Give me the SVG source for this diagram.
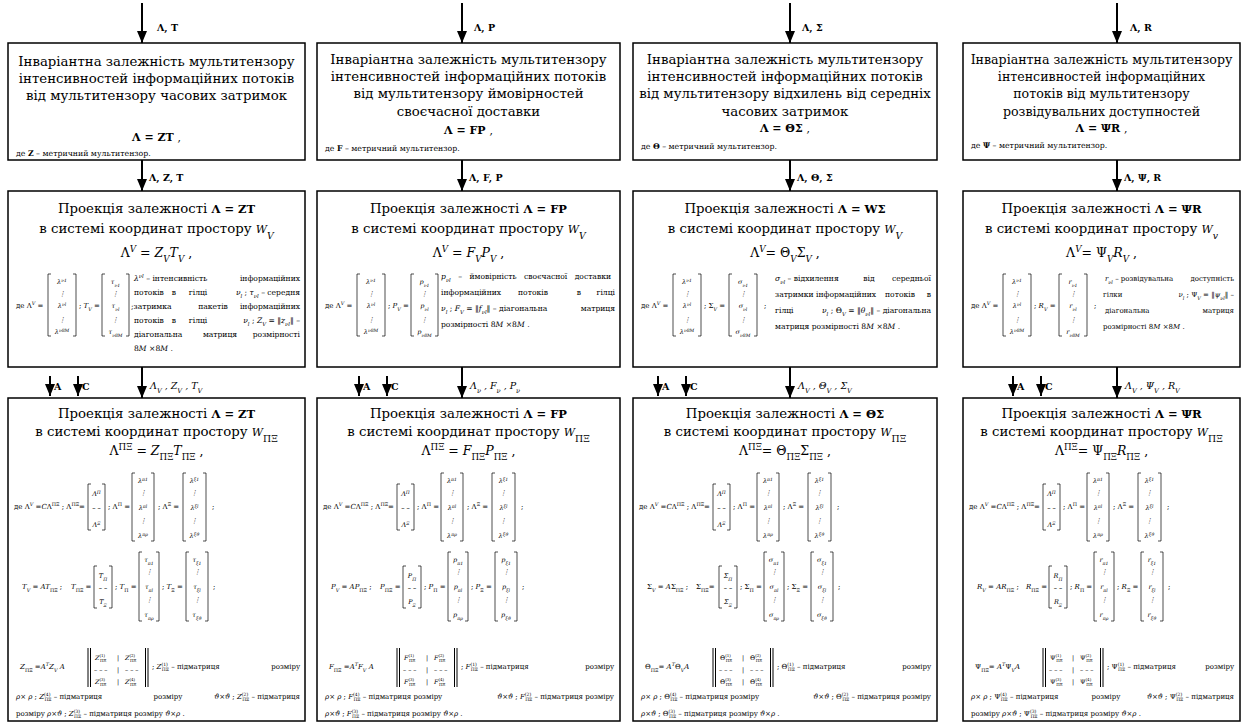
<svg xmlns="http://www.w3.org/2000/svg" width="1245" height="725" viewBox="0 0 1245 725" font-family="DejaVu Serif, serif">
<style>
text{font-family:'DejaVu Serif',serif;fill:#000}
.box{fill:#fff;stroke:#000;stroke-width:1.5}
.h{font-size:13.3px;text-anchor:middle}
.h4{font-size:12.6px}
.e{font-size:12.5px;text-anchor:middle}
.eb{font-size:11px;font-weight:bold;text-anchor:middle}
.n{font-size:7.8px}
.q{font-size:6.3px}
.s{font-size:7px}
.p{font-size:7.6px}
.p4{font-size:7px}
.v{font-size:6.5px;text-anchor:middle;font-style:italic}
.m{text-anchor:middle}
.r{text-anchor:end}
.i{font-style:italic}
.b{font-weight:bold}
.hb{font-weight:bold;font-size:11.5px}
.w{font-style:italic;font-size:11px}
.sp{baseline-shift:super;font-size:70%}
.sb{baseline-shift:sub;font-size:70%}
.br{fill:none;stroke:#000;stroke-width:0.7}
.db{fill:none;stroke:#000;stroke-width:1}
.ar{fill:none;stroke:#000;stroke-width:2;marker-end:url(#ah)}
.lb{font-size:9.5px;font-weight:bold}
.li{font-size:9.5px;font-style:italic}
</style>
<defs>
<marker id="ah" markerUnits="userSpaceOnUse" markerWidth="12" markerHeight="10" refX="12" refY="5" orient="auto"><path d="M0,0L12,5L0,10z" fill="#000"/></marker>
</defs>

<g id="connectors">
<line class="ar" x1="142" y1="3" x2="142" y2="43"/>
<line class="ar" x1="462" y1="3" x2="462" y2="43"/>
<line class="ar" x1="790" y1="3" x2="790" y2="43"/>
<line class="ar" x1="1117" y1="3" x2="1117" y2="43"/>
<text class="lb" x="157" y="31">Λ, T</text>
<text class="lb" x="474" y="31">Λ, P</text>
<text class="lb" x="802" y="31">Λ, Σ</text>
<text class="lb" x="1130" y="31">Λ, R</text>
<line class="ar" x1="142" y1="160" x2="142" y2="191"/>
<line class="ar" x1="462" y1="160" x2="462" y2="191"/>
<line class="ar" x1="790" y1="160" x2="790" y2="191"/>
<line class="ar" x1="1117" y1="160" x2="1117" y2="191"/>
<text class="lb" x="149" y="181">Λ, Z, T</text>
<text class="lb" x="469" y="181">Λ, F, P</text>
<text class="lb" x="797" y="181">Λ, Θ, Σ</text>
<text class="lb" x="1124" y="181">Λ, Ψ, R</text>
<line class="ar" x1="142" y1="367" x2="142" y2="398"/>
<line class="ar" x1="462" y1="367" x2="462" y2="398"/>
<line class="ar" x1="790" y1="367" x2="790" y2="398"/>
<line class="ar" x1="1117" y1="367" x2="1117" y2="398"/>
<text class="li" x="150" y="389">Λ<tspan class="sb">V</tspan> , <tspan>Z</tspan><tspan class="sb">V</tspan> , <tspan>T</tspan><tspan class="sb">V</tspan></text>
<text class="li" x="470" y="389">Λ<tspan class="sb">ν</tspan> , <tspan>F</tspan><tspan class="sb">ν</tspan> , <tspan>P</tspan><tspan class="sb">ν</tspan></text>
<text class="li" x="798" y="389">Λ<tspan class="sb">V</tspan> , Θ<tspan class="sb">V</tspan> , Σ<tspan class="sb">V</tspan></text>
<text class="li" x="1125" y="389">Λ<tspan class="sb">V</tspan> , Ψ<tspan class="sb">V</tspan> , <tspan>R</tspan><tspan class="sb">V</tspan></text>
<line class="ar" x1="50" y1="376" x2="50" y2="396"/>
<line class="ar" x1="78" y1="376" x2="78" y2="396"/>
<line class="ar" x1="359" y1="376" x2="359" y2="396"/>
<line class="ar" x1="387" y1="376" x2="387" y2="396"/>
<line class="ar" x1="658" y1="376" x2="658" y2="396"/>
<line class="ar" x1="686" y1="376" x2="686" y2="396"/>
<line class="ar" x1="1013" y1="376" x2="1013" y2="396"/>
<line class="ar" x1="1041" y1="376" x2="1041" y2="396"/>
<text class="lb" x="54" y="390">A</text><text class="lb" x="82" y="390">C</text>
<text class="lb" x="363" y="390">A</text><text class="lb" x="391" y="390">C</text>
<text class="lb" x="662" y="390">A</text><text class="lb" x="690" y="390">C</text>
<text class="lb" x="1017" y="390">A</text><text class="lb" x="1045" y="390">C</text>
</g>

<!-- ================= COLUMN 1 ================= -->
<g id="n1-top" transform="translate(8,0)">
<rect class="box" x="0" y="43" width="297" height="117"/>
<text class="h" x="148.5" y="66">Інваріантна залежність мультитензору</text>
<text class="h" x="148.5" y="83">інтенсивностей інформаційних потоків</text>
<text class="h" x="148.5" y="100">від мультитензору часових затримок</text>
<text class="eb" x="148.5" y="141">Λ = ZT <tspan font-weight="normal">,</tspan></text>
<text class="n" x="8" y="156">де <tspan class="b">Z</tspan> – метричний мультитензор.</text>
</g>

<g id="n1-mid" transform="translate(8,0)">
<rect class="box" x="0" y="191" width="297" height="176"/>
<text class="h" x="148.5" y="213">Проекція залежності <tspan class="hb">Λ = ZT</tspan></text>
<text class="h" x="148.5" y="233">в системі координат простору <tspan class="w">W</tspan><tspan class="sb i">V</tspan></text>
<text class="e" x="148.5" y="257">Λ<tspan class="sp i">V</tspan> = <tspan class="i">Z</tspan><tspan class="sb i">V</tspan><tspan class="i">T</tspan><tspan class="sb i">V</tspan> ,</text>
<text class="s" x="8" y="308">де Λ<tspan class="sp i">V</tspan> =</text>
<path class="br" d="M43,274H40V336H43M65,274H68V336H65"/>
<text class="v" x="54" y="284">λ<tspan class="sp">ν1</tspan></text>
<text class="v" x="54" y="296">⋮</text>
<text class="v" x="54" y="308">λ<tspan class="sp">νl</tspan></text>
<text class="v" x="54" y="322">⋮</text>
<text class="v" x="54" y="334">λ<tspan class="sp">ν8M</tspan></text>
<text class="s" x="71" y="308">; <tspan class="i">T</tspan><tspan class="sb i">V</tspan> =</text>
<path class="br" d="M97,274H94V336H97M118,274H121V336H118"/>
<text class="v" x="107.5" y="284">τ<tspan class="sb">ν1</tspan></text>
<text class="v" x="107.5" y="296">⋮</text>
<text class="v" x="107.5" y="308">τ<tspan class="sb">νl</tspan></text>
<text class="v" x="107.5" y="322">⋮</text>
<text class="v" x="107.5" y="334">τ<tspan class="sb">ν8M</tspan></text>
<text class="p" x="126" y="281"><tspan class="i">λ</tspan><tspan class="sp i">νl</tspan> – інтенсивність</text>
<text class="p r" x="292" y="281">інформаційних</text>
<text class="p" x="126" y="295">потоків</text><text class="p m" x="166" y="295">в</text><text class="p m" x="190" y="295">гілці</text>
<text class="p r" x="292" y="295"><tspan class="i">ν</tspan><tspan class="sb i">l</tspan> ; <tspan class="i">τ</tspan><tspan class="sb i">νl</tspan> – середня</text>
<text class="p" x="123" y="309">;затримка</text><text class="p m" x="205" y="309">пакетів</text><text class="p r" x="292" y="309">інформаційних</text>
<text class="p" x="126" y="323">потоків</text><text class="p m" x="166" y="323">в</text><text class="p m" x="190" y="323">гілці</text>
<text class="p r" x="292" y="323"><tspan class="i">ν</tspan><tspan class="sb i">l</tspan> ; <tspan class="i">Z</tspan><tspan class="sb i">V</tspan> = ‖<tspan class="i">z</tspan><tspan class="sb i">νl</tspan>‖ –</text>
<text class="p" x="126" y="337">діагональна</text><text class="p m" x="212" y="337">матриця</text><text class="p r" x="292" y="337">розмірності</text>
<text class="p" x="126" y="351">8<tspan class="i">M</tspan> ×8<tspan class="i">M</tspan>  .</text>
</g>

<g id="n1-bot" transform="translate(8,0)">
<rect class="box" x="0" y="398" width="297" height="323"/>
<text class="h" x="148.5" y="418">Проекція залежності <tspan class="hb">Λ = ZT</tspan></text>
<text class="h" x="148.5" y="436">в системі координат простору <tspan class="w">W</tspan><tspan class="sb">ΠΞ</tspan></text>
<text class="e" x="148.5" y="455">Λ<tspan class="sp">ΠΞ</tspan> = <tspan class="i">Z</tspan><tspan class="sb">ΠΞ</tspan><tspan class="i">T</tspan><tspan class="sb">ΠΞ</tspan> ,</text>
<text class="s" x="6" y="509">де Λ<tspan class="sp i">V</tspan> =<tspan class="i">C</tspan>Λ<tspan class="sp">ΠΞ</tspan> ; Λ<tspan class="sp">ΠΞ</tspan>=</text>
<path class="br" d="M83,484H80V530H83M94,484H97V530H94"/>
<text class="v" x="88.5" y="496" font-style="normal">Λ<tspan class="sp">Π</tspan></text>
<text class="v" x="88.5" y="510">– –</text>
<text class="v" x="88.5" y="527" font-style="normal">Λ<tspan class="sp">Ξ</tspan></text>
<text class="s" x="100" y="509">; Λ<tspan class="sp">Π</tspan> =</text>
<path class="br" d="M127,473H124V541H127M143,473H146V541H143"/>
<text class="v" x="135" y="483">λ<tspan class="sp">π1</tspan></text>
<text class="v" x="135" y="495">⋮</text>
<text class="v" x="135" y="510">λ<tspan class="sp">πl</tspan></text>
<text class="v" x="135" y="523">⋮</text>
<text class="v" x="135" y="538">λ<tspan class="sp">πρ</tspan></text>
<text class="s" x="150" y="509">; Λ<tspan class="sp">Ξ</tspan> =</text>
<path class="br" d="M178,473H175V541H178M195,473H198V541H195"/>
<text class="v" x="186.5" y="483">λ<tspan class="sp">ξ1</tspan></text>
<text class="v" x="186.5" y="495">⋮</text>
<text class="v" x="186.5" y="510">λ<tspan class="sp">ξl</tspan></text>
<text class="v" x="186.5" y="523">⋮</text>
<text class="v" x="186.5" y="538">λ<tspan class="sp">ξϑ</tspan></text>
<text class="s" x="204" y="509">;</text>
<text class="s" x="14" y="589"><tspan class="i">T</tspan><tspan class="sb i">V</tspan> = <tspan class="i">AT</tspan><tspan class="sb">ΠΞ</tspan> ;</text>
<text class="s" x="63" y="589"><tspan class="i">T</tspan><tspan class="sb">ΠΞ</tspan> =</text>
<path class="br" d="M89,566H86V608H89M101,566H104V608H101"/>
<text class="v" x="95" y="578">T<tspan class="sb">Π</tspan></text>
<text class="v" x="95" y="590">– –</text>
<text class="v" x="95" y="604">T<tspan class="sb">Ξ</tspan></text>
<text class="s" x="107" y="589">; <tspan class="i">T</tspan><tspan class="sb">Π</tspan> =</text>
<path class="br" d="M134,552H131V621H134M148,552H151V621H148"/>
<text class="v" x="141" y="562">τ<tspan class="sb">π1</tspan></text>
<text class="v" x="141" y="574">⋮</text>
<text class="v" x="141" y="589">τ<tspan class="sb">πl</tspan></text>
<text class="v" x="141" y="602">⋮</text>
<text class="v" x="141" y="617">τ<tspan class="sb">πρ</tspan></text>
<text class="s" x="154" y="589">; <tspan class="i">T</tspan><tspan class="sb">Ξ</tspan> =</text>
<path class="br" d="M181,552H178V621H181M197,552H200V621H197"/>
<text class="v" x="189" y="562">τ<tspan class="sb">ξ1</tspan></text>
<text class="v" x="189" y="574">⋮</text>
<text class="v" x="189" y="589">τ<tspan class="sb">ξl</tspan></text>
<text class="v" x="189" y="602">⋮</text>
<text class="v" x="189" y="617">τ<tspan class="sb">ξϑ</tspan></text>
<text class="s" x="205" y="589">;</text>
<text class="s" x="12" y="669"><tspan class="i">Z</tspan><tspan class="sb">ΠΞ</tspan> =<tspan class="i">A</tspan><tspan class="sp i">T</tspan><tspan class="i">Z</tspan><tspan class="sb i">V</tspan><tspan class="i"> A</tspan></text>
<path class="db" d="M80,648V687M82.5,648V687M137.5,648V687M140,648V687"/>
<text class="q" x="87" y="660"><tspan class="i">Z</tspan><tspan font-size="4" dy="-3">(1)</tspan><tspan font-size="4" dx="-5" dy="5">ΠΞ</tspan></text>
<text class="q m" x="110" y="660">|</text>
<text class="q" x="117" y="660"><tspan class="i">Z</tspan><tspan font-size="4" dy="-3">(2)</tspan><tspan font-size="4" dx="-5" dy="5">ΠΞ</tspan></text>
<text class="q" x="86" y="672">– – –</text><text class="q m" x="110" y="672">|</text><text class="q" x="117" y="672">– – –</text>
<text class="q" x="87" y="684"><tspan class="i">Z</tspan><tspan font-size="4" dy="-3">(3)</tspan><tspan font-size="4" dx="-5" dy="5">ΠΞ</tspan></text>
<text class="q m" x="110" y="684">|</text>
<text class="q" x="117" y="684"><tspan class="i">Z</tspan><tspan font-size="4" dy="-3">(4)</tspan><tspan font-size="4" dx="-5" dy="5">ΠΞ</tspan></text>
<text class="s" x="144" y="669">; <tspan class="i">Z</tspan><tspan font-size="4.5" dy="-3">(1)</tspan><tspan font-size="4.5" dx="-6" dy="5">ΠΞ</tspan><tspan dy="-2"> – підматриця</tspan></text>
<text class="s r" x="292" y="669">розміру</text>
<text class="s" x="8" y="699"><tspan class="i">ρ</tspan>× <tspan class="i">ρ</tspan> ; <tspan class="i">Z</tspan><tspan font-size="4.5" dy="-3">(4)</tspan><tspan font-size="4.5" dx="-6" dy="5">ΠΞ</tspan><tspan dy="-2"> – підматриця</tspan></text>
<text class="s m" x="160" y="699">розміру</text>
<text class="s r" x="292" y="699"><tspan class="i">ϑ</tspan>×<tspan class="i">ϑ</tspan> ; <tspan class="i">Z</tspan><tspan font-size="4.5" dy="-3">(2)</tspan><tspan font-size="4.5" dx="-6" dy="5">ΠΞ</tspan><tspan dy="-2"> – підматриця</tspan></text>
<text class="s" x="8" y="716">розміру  <tspan class="i">ρ</tspan>×<tspan class="i">ϑ</tspan> ; <tspan class="i">Z</tspan><tspan font-size="4.5" dy="-3">(3)</tspan><tspan font-size="4.5" dx="-6" dy="5">ΠΞ</tspan><tspan dy="-2"> – підматриця розміру  </tspan><tspan class="i">ϑ</tspan>×<tspan class="i">ρ</tspan> .</text>
</g>

<!-- ================= COLUMN 2 ================= -->
<g id="n2-top" transform="translate(317,0)">
<rect class="box" x="0" y="43" width="303" height="117"/>
<text class="h" x="151.5" y="64">Інваріантна залежність мультитензору</text>
<text class="h" x="151.5" y="81">інтенсивностей інформаційних потоків</text>
<text class="h" x="151.5" y="98">від мультитензору ймовірностей</text>
<text class="h" x="151.5" y="116">своєчасної доставки</text>
<text class="eb" x="151.5" y="134">Λ = FP <tspan font-weight="normal">,</tspan></text>
<text class="n" x="8" y="151">де <tspan class="b">F</tspan> – метричний мультитензор.</text>
</g>

<g id="n2-mid" transform="translate(317,0)">
<rect class="box" x="0" y="191" width="303" height="176"/>
<text class="h" x="151.5" y="213">Проекція залежності <tspan class="hb">Λ = FP</tspan></text>
<text class="h" x="151.5" y="233">в системі координат простору <tspan class="w">W</tspan><tspan class="sb i">V</tspan></text>
<text class="e" x="151.5" y="257">Λ<tspan class="sp i">V</tspan> = <tspan class="i">F</tspan><tspan class="sb i">V</tspan><tspan class="i">P</tspan><tspan class="sb i">V</tspan> ,</text>
<text class="s" x="8" y="308">де Λ<tspan class="sp i">V</tspan> =</text>
<path class="br" d="M43,274H40V336H43M65,274H68V336H65"/>
<text class="v" x="54" y="284">λ<tspan class="sp">ν1</tspan></text>
<text class="v" x="54" y="296">⋮</text>
<text class="v" x="54" y="308">λ<tspan class="sp">νl</tspan></text>
<text class="v" x="54" y="322">⋮</text>
<text class="v" x="54" y="334">λ<tspan class="sp">ν8M</tspan></text>
<text class="s" x="71" y="308">; <tspan class="i">P</tspan><tspan class="sb i">V</tspan> =</text>
<path class="br" d="M97,274H94V336H97M118,274H121V336H118"/>
<text class="v" x="107.5" y="284">p<tspan class="sb">ν1</tspan></text>
<text class="v" x="107.5" y="296">⋮</text>
<text class="v" x="107.5" y="308">p<tspan class="sb">νl</tspan></text>
<text class="v" x="107.5" y="322">⋮</text>
<text class="v" x="107.5" y="334">p<tspan class="sb">ν8M</tspan></text>
<text class="p" x="124" y="279" style="word-spacing:5px"><tspan class="i">p</tspan><tspan class="sb i">νl</tspan> – ймовірність своєчасної доставки</text>
<text class="p" x="124" y="295">інформаційних</text><text class="p m" x="216" y="295">потоків</text><text class="p m" x="262" y="295">в</text><text class="p r" x="298" y="295">гілці</text>
<text class="p" x="124" y="311"><tspan class="i">ν</tspan><tspan class="sb i">l</tspan> ; <tspan class="i">F</tspan><tspan class="sb i">V</tspan> = ‖<tspan class="i">f</tspan><tspan class="sb i">νl</tspan>‖ – діагональна</text><text class="p r" x="298" y="311">матриця</text>
<text class="p" x="124" y="327">розмірності  8<tspan class="i">M</tspan> ×8<tspan class="i">M</tspan>  .</text>
</g>

<g id="n2-bot" transform="translate(317,0)">
<rect class="box" x="0" y="398" width="303" height="323"/>
<text class="h" x="151.5" y="418">Проекція залежності <tspan class="hb">Λ = FP</tspan></text>
<text class="h" x="151.5" y="436">в системі координат простору <tspan class="w">W</tspan><tspan class="sb">ΠΞ</tspan></text>
<text class="e" x="151.5" y="455">Λ<tspan class="sp">ΠΞ</tspan> = <tspan class="i">F</tspan><tspan class="sb">ΠΞ</tspan><tspan class="i">P</tspan><tspan class="sb">ΠΞ</tspan> ,</text>
<text class="s" x="6" y="509">де Λ<tspan class="sp i">V</tspan> =<tspan class="i">C</tspan>Λ<tspan class="sp">ΠΞ</tspan> ; Λ<tspan class="sp">ΠΞ</tspan>=</text>
<path class="br" d="M83,484H80V530H83M94,484H97V530H94"/>
<text class="v" x="88.5" y="496" font-style="normal">Λ<tspan class="sp">Π</tspan></text>
<text class="v" x="88.5" y="510">– –</text>
<text class="v" x="88.5" y="527" font-style="normal">Λ<tspan class="sp">Ξ</tspan></text>
<text class="s" x="100" y="509">; Λ<tspan class="sp">Π</tspan> =</text>
<path class="br" d="M127,473H124V541H127M143,473H146V541H143"/>
<text class="v" x="135" y="483">λ<tspan class="sp">π1</tspan></text>
<text class="v" x="135" y="495">⋮</text>
<text class="v" x="135" y="510">λ<tspan class="sp">πl</tspan></text>
<text class="v" x="135" y="523">⋮</text>
<text class="v" x="135" y="538">λ<tspan class="sp">πρ</tspan></text>
<text class="s" x="150" y="509">; Λ<tspan class="sp">Ξ</tspan> =</text>
<path class="br" d="M178,473H175V541H178M195,473H198V541H195"/>
<text class="v" x="186.5" y="483">λ<tspan class="sp">ξ1</tspan></text>
<text class="v" x="186.5" y="495">⋮</text>
<text class="v" x="186.5" y="510">λ<tspan class="sp">ξl</tspan></text>
<text class="v" x="186.5" y="523">⋮</text>
<text class="v" x="186.5" y="538">λ<tspan class="sp">ξϑ</tspan></text>
<text class="s" x="204" y="509">;</text>
<text class="s" x="14" y="589"><tspan class="i">P</tspan><tspan class="sb i">V</tspan> = <tspan class="i">AP</tspan><tspan class="sb">ΠΞ</tspan> ;</text>
<text class="s" x="63" y="589"><tspan class="i">P</tspan><tspan class="sb">ΠΞ</tspan> =</text>
<path class="br" d="M89,566H86V608H89M101,566H104V608H101"/>
<text class="v" x="95" y="578">P<tspan class="sb">Π</tspan></text>
<text class="v" x="95" y="590">– –</text>
<text class="v" x="95" y="604">P<tspan class="sb">Ξ</tspan></text>
<text class="s" x="107" y="589">; <tspan class="i">P</tspan><tspan class="sb">Π</tspan> =</text>
<path class="br" d="M134,552H131V621H134M148,552H151V621H148"/>
<text class="v" x="141" y="562">p<tspan class="sb">π1</tspan></text>
<text class="v" x="141" y="574">⋮</text>
<text class="v" x="141" y="589">p<tspan class="sb">πl</tspan></text>
<text class="v" x="141" y="602">⋮</text>
<text class="v" x="141" y="617">p<tspan class="sb">πρ</tspan></text>
<text class="s" x="154" y="589">; <tspan class="i">P</tspan><tspan class="sb">Ξ</tspan> =</text>
<path class="br" d="M181,552H178V621H181M197,552H200V621H197"/>
<text class="v" x="189" y="562">p<tspan class="sb">ξ1</tspan></text>
<text class="v" x="189" y="574">⋮</text>
<text class="v" x="189" y="589">p<tspan class="sb">ξl</tspan></text>
<text class="v" x="189" y="602">⋮</text>
<text class="v" x="189" y="617">p<tspan class="sb">ξϑ</tspan></text>
<text class="s" x="205" y="589">;</text>
<text class="s" x="12" y="669"><tspan class="i">F</tspan><tspan class="sb">ΠΞ</tspan> =<tspan class="i">A</tspan><tspan class="sp i">T</tspan><tspan class="i">F</tspan><tspan class="sb i">V</tspan><tspan class="i"> A</tspan></text>
<path class="db" d="M80,648V687M82.5,648V687M137.5,648V687M140,648V687"/>
<text class="q" x="87" y="660"><tspan class="i">F</tspan><tspan font-size="4" dy="-3">(1)</tspan><tspan font-size="4" dx="-5" dy="5">ΠΞ</tspan></text>
<text class="q m" x="110" y="660">|</text>
<text class="q" x="117" y="660"><tspan class="i">F</tspan><tspan font-size="4" dy="-3">(2)</tspan><tspan font-size="4" dx="-5" dy="5">ΠΞ</tspan></text>
<text class="q" x="86" y="672">– – –</text><text class="q m" x="110" y="672">|</text><text class="q" x="117" y="672">– – –</text>
<text class="q" x="87" y="684"><tspan class="i">F</tspan><tspan font-size="4" dy="-3">(3)</tspan><tspan font-size="4" dx="-5" dy="5">ΠΞ</tspan></text>
<text class="q m" x="110" y="684">|</text>
<text class="q" x="117" y="684"><tspan class="i">F</tspan><tspan font-size="4" dy="-3">(4)</tspan><tspan font-size="4" dx="-5" dy="5">ΠΞ</tspan></text>
<text class="s" x="144" y="669">; <tspan class="i">F</tspan><tspan font-size="4.5" dy="-3">(1)</tspan><tspan font-size="4.5" dx="-6" dy="5">ΠΞ</tspan><tspan dy="-2"> – підматриця</tspan></text>
<text class="s r" x="297" y="669">розміру</text>
<text class="s" x="8" y="699"><tspan class="i">ρ</tspan>× <tspan class="i">ρ</tspan> ; <tspan class="i">F</tspan><tspan font-size="4.5" dy="-3">(4)</tspan><tspan font-size="4.5" dx="-6" dy="5">ΠΞ</tspan><tspan dy="-2"> – підматриця розміру</tspan></text>
<text class="s r" x="297" y="699"><tspan class="i">ϑ</tspan>×<tspan class="i">ϑ</tspan> ; <tspan class="i">F</tspan><tspan font-size="4.5" dy="-3">(2)</tspan><tspan font-size="4.5" dx="-6" dy="5">ΠΞ</tspan><tspan dy="-2"> – підматриця розміру</tspan></text>
<text class="s" x="8" y="716"><tspan class="i">ρ</tspan>×<tspan class="i">ϑ</tspan> ; <tspan class="i">F</tspan><tspan font-size="4.5" dy="-3">(3)</tspan><tspan font-size="4.5" dx="-6" dy="5">ΠΞ</tspan><tspan dy="-2"> – підматриця розміру  </tspan><tspan class="i">ϑ</tspan>×<tspan class="i">ρ</tspan> .</text>
</g>

<!-- ================= COLUMN 3 ================= -->
<g id="n3-top" transform="translate(633,0)">
<rect class="box" x="0" y="43" width="304" height="117"/>
<text class="h" x="152" y="64">Інваріантна залежність мультитензору</text>
<text class="h" x="152" y="81">інтенсивностей інформаційних потоків</text>
<text class="h" x="152" y="98">від мультитензору відхилень від середніх</text>
<text class="h" x="152" y="116">часових затримок</text>
<text class="eb" x="152" y="132">Λ = ΘΣ <tspan font-weight="normal">,</tspan></text>
<text class="n" x="8" y="149">де <tspan class="b">Θ</tspan> – метричний мультитензор.</text>
</g>

<g id="n3-mid" transform="translate(633,0)">
<rect class="box" x="0" y="191" width="304" height="176"/>
<text class="h" x="152" y="213">Проекція залежності <tspan class="hb">Λ = WΣ</tspan></text>
<text class="h" x="152" y="233">в системі координат простору <tspan class="w">W</tspan><tspan class="sb i">V</tspan></text>
<text class="e" x="152" y="257">Λ<tspan class="sp i">V</tspan>=  Θ<tspan class="sb i">V</tspan>Σ<tspan class="sb i">V</tspan> ,</text>
<text class="s" x="8" y="308">де Λ<tspan class="sp i">V</tspan> =</text>
<path class="br" d="M43,274H40V336H43M65,274H68V336H65"/>
<text class="v" x="54" y="284">λ<tspan class="sp">ν1</tspan></text>
<text class="v" x="54" y="296">⋮</text>
<text class="v" x="54" y="308">λ<tspan class="sp">νl</tspan></text>
<text class="v" x="54" y="322">⋮</text>
<text class="v" x="54" y="334">λ<tspan class="sp">ν8M</tspan></text>
<text class="s" x="71" y="308">; Σ<tspan class="sb i">V</tspan> =</text>
<path class="br" d="M99,274H96V336H99M121,274H124V336H121"/>
<text class="v" x="110" y="284">σ<tspan class="sb">ν1</tspan></text>
<text class="v" x="110" y="296">⋮</text>
<text class="v" x="110" y="308">σ<tspan class="sb">νl</tspan></text>
<text class="v" x="110" y="322">⋮</text>
<text class="v" x="110" y="334">σ<tspan class="sb">ν8M</tspan></text>
<text class="s" x="131" y="308">;</text>
<text class="p" x="142" y="281"><tspan class="i">σ</tspan><tspan class="sb i">νl</tspan> – відхилення</text><text class="p m" x="236" y="281">від</text><text class="p r" x="298" y="281">середньої</text>
<text class="p" x="142" y="297">затримки</text><text class="p m" x="213" y="297">інформаційних</text><text class="p m" x="267" y="297">потоків</text><text class="p r" x="298" y="297">в</text>
<text class="p" x="142" y="313">гілці</text><text class="p r" x="298" y="313"><tspan class="i">ν</tspan><tspan class="sb i">l</tspan> ; Θ<tspan class="sb i">V</tspan> = ‖<tspan class="i">θ</tspan><tspan class="sb i">νl</tspan>‖ – діагональна</text>
<text class="p" x="142" y="329">матриця розмірності  8<tspan class="i">M</tspan> ×8<tspan class="i">M</tspan>  .</text>
</g>

<g id="n3-bot" transform="translate(633,0)">
<rect class="box" x="0" y="398" width="304" height="323"/>
<text class="h" x="152" y="418">Проекція залежності <tspan class="hb">Λ = ΘΣ</tspan></text>
<text class="h" x="152" y="436">в системі координат простору <tspan class="w">W</tspan><tspan class="sb">ΠΞ</tspan></text>
<text class="e" x="152" y="455">Λ<tspan class="sp">ΠΞ</tspan>=  Θ<tspan class="sb">ΠΞ</tspan>Σ<tspan class="sb">ΠΞ</tspan> ,</text>
<text class="s" x="6" y="509">де Λ<tspan class="sp i">V</tspan> =<tspan class="i">C</tspan>Λ<tspan class="sp">ΠΞ</tspan> ; Λ<tspan class="sp">ΠΞ</tspan>=</text>
<path class="br" d="M83,484H80V530H83M94,484H97V530H94"/>
<text class="v" x="88.5" y="496" font-style="normal">Λ<tspan class="sp">Π</tspan></text>
<text class="v" x="88.5" y="510">– –</text>
<text class="v" x="88.5" y="527" font-style="normal">Λ<tspan class="sp">Ξ</tspan></text>
<text class="s" x="100" y="509">; Λ<tspan class="sp">Π</tspan> =</text>
<path class="br" d="M127,473H124V541H127M143,473H146V541H143"/>
<text class="v" x="135" y="483">λ<tspan class="sp">π1</tspan></text>
<text class="v" x="135" y="495">⋮</text>
<text class="v" x="135" y="510">λ<tspan class="sp">πl</tspan></text>
<text class="v" x="135" y="523">⋮</text>
<text class="v" x="135" y="538">λ<tspan class="sp">πρ</tspan></text>
<text class="s" x="150" y="509">; Λ<tspan class="sp">Ξ</tspan> =</text>
<path class="br" d="M178,473H175V541H178M195,473H198V541H195"/>
<text class="v" x="186.5" y="483">λ<tspan class="sp">ξ1</tspan></text>
<text class="v" x="186.5" y="495">⋮</text>
<text class="v" x="186.5" y="510">λ<tspan class="sp">ξl</tspan></text>
<text class="v" x="186.5" y="523">⋮</text>
<text class="v" x="186.5" y="538">λ<tspan class="sp">ξϑ</tspan></text>
<text class="s" x="204" y="509">;</text>
<text class="s" x="14" y="589">Σ<tspan class="sb i">V</tspan> = <tspan class="i">A</tspan>Σ<tspan class="sb">ΠΞ</tspan> ;</text>
<text class="s" x="63" y="589">Σ<tspan class="sb">ΠΞ</tspan>=</text>
<path class="br" d="M89,566H86V608H89M101,566H104V608H101"/>
<text class="v" x="95" y="578" font-style="normal">Σ<tspan class="sb">Π</tspan></text>
<text class="v" x="95" y="590">– –</text>
<text class="v" x="95" y="604" font-style="normal">Σ<tspan class="sb">Ξ</tspan></text>
<text class="s" x="107" y="589">; Σ<tspan class="sb">Π</tspan> =</text>
<path class="br" d="M134,552H131V621H134M148,552H151V621H148"/>
<text class="v" x="141" y="562">σ<tspan class="sb">π1</tspan></text>
<text class="v" x="141" y="574">⋮</text>
<text class="v" x="141" y="589">σ<tspan class="sb">πl</tspan></text>
<text class="v" x="141" y="602">⋮</text>
<text class="v" x="141" y="617">σ<tspan class="sb">πρ</tspan></text>
<text class="s" x="154" y="589">; Σ<tspan class="sb">Ξ</tspan> =</text>
<path class="br" d="M181,552H178V621H181M197,552H200V621H197"/>
<text class="v" x="189" y="562">σ<tspan class="sb">ξ1</tspan></text>
<text class="v" x="189" y="574">⋮</text>
<text class="v" x="189" y="589">σ<tspan class="sb">ξl</tspan></text>
<text class="v" x="189" y="602">⋮</text>
<text class="v" x="189" y="617">σ<tspan class="sb">ξϑ</tspan></text>
<text class="s" x="205" y="589">;</text>
<text class="s" x="12" y="669">Θ<tspan class="sb">ΠΞ</tspan>=  <tspan class="i">A</tspan><tspan class="sp i">T</tspan>Θ<tspan class="sb i">V</tspan><tspan class="i">A</tspan></text>
<path class="db" d="M80,648V687M82.5,648V687M137.5,648V687M140,648V687"/>
<text class="q" x="87" y="660">Θ<tspan font-size="4" dy="-3">(1)</tspan><tspan font-size="4" dx="-5" dy="5">ΠΞ</tspan></text>
<text class="q m" x="110" y="660">|</text>
<text class="q" x="117" y="660">Θ<tspan font-size="4" dy="-3">(2)</tspan><tspan font-size="4" dx="-5" dy="5">ΠΞ</tspan></text>
<text class="q" x="86" y="672">– – –</text><text class="q m" x="110" y="672">|</text><text class="q" x="117" y="672">– – –</text>
<text class="q" x="87" y="684">Θ<tspan font-size="4" dy="-3">(3)</tspan><tspan font-size="4" dx="-5" dy="5">ΠΞ</tspan></text>
<text class="q m" x="110" y="684">|</text>
<text class="q" x="117" y="684">Θ<tspan font-size="4" dy="-3">(4)</tspan><tspan font-size="4" dx="-5" dy="5">ΠΞ</tspan></text>
<text class="s" x="144" y="669">; Θ<tspan font-size="4.5" dy="-3">(1)</tspan><tspan font-size="4.5" dx="-6" dy="5">ΠΞ</tspan><tspan dy="-2"> – підматриця</tspan></text>
<text class="s r" x="298" y="669">розміру</text>
<text class="s" x="8" y="699"><tspan class="i">ρ</tspan>× <tspan class="i">ρ</tspan> ; Θ<tspan font-size="4.5" dy="-3">(4)</tspan><tspan font-size="4.5" dx="-6" dy="5">ΠΞ</tspan><tspan dy="-2"> – підматриця  розміру</tspan></text>
<text class="s r" x="298" y="699"><tspan class="i">ϑ</tspan>×<tspan class="i">ϑ</tspan> ; Θ<tspan font-size="4.5" dy="-3">(2)</tspan><tspan font-size="4.5" dx="-6" dy="5">ΠΞ</tspan><tspan dy="-2"> – підматриця  розміру</tspan></text>
<text class="s" x="8" y="716"><tspan class="i">ρ</tspan>×<tspan class="i">ϑ</tspan> ; Θ<tspan font-size="4.5" dy="-3">(3)</tspan><tspan font-size="4.5" dx="-6" dy="5">ΠΞ</tspan><tspan dy="-2"> – підматриця розміру  </tspan><tspan class="i">ϑ</tspan>×<tspan class="i">ρ</tspan> .</text>
</g>

<!-- ================= COLUMN 4 ================= -->
<g id="n4-top" transform="translate(963,0)">
<rect class="box" x="0" y="43" width="277" height="117"/>
<text class="h h4" x="138.5" y="64">Інваріантна залежність мультитензору</text>
<text class="h h4" x="138.5" y="81">інтенсивностей інформаційних</text>
<text class="h h4" x="138.5" y="98">потоків від мультитензору</text>
<text class="h h4" x="138.5" y="116">розвідувальних доступностей</text>
<text class="eb" x="138.5" y="132">Λ = ΨR <tspan font-weight="normal">,</tspan></text>
<text class="n" x="8" y="148">де <tspan class="b">Ψ</tspan> – метричний мультитензор.</text>
</g>

<g id="n4-mid" transform="translate(963,0)">
<rect class="box" x="0" y="191" width="277" height="176"/>
<text class="h" x="138.5" y="213">Проекція залежності <tspan class="hb">Λ = ΨR</tspan></text>
<text class="h" x="138.5" y="233">в системі координат простору <tspan class="w">W</tspan><tspan class="sb i">v</tspan></text>
<text class="e" x="138.5" y="257">Λ<tspan class="sp i">V</tspan>=  Ψ<tspan class="sb i">V</tspan><tspan class="i">R</tspan><tspan class="sb i">V</tspan> ,</text>
<text class="s" x="8" y="308">де Λ<tspan class="sp i">V</tspan> =</text>
<path class="br" d="M43,274H40V336H43M65,274H68V336H65"/>
<text class="v" x="54" y="284">λ<tspan class="sp">ν1</tspan></text>
<text class="v" x="54" y="296">⋮</text>
<text class="v" x="54" y="308">λ<tspan class="sp">νl</tspan></text>
<text class="v" x="54" y="322">⋮</text>
<text class="v" x="54" y="334">λ<tspan class="sp">ν8M</tspan></text>
<text class="s" x="71" y="308">; <tspan class="i">R</tspan><tspan class="sb i">V</tspan> =</text>
<path class="br" d="M99,274H96V336H99M121,274H124V336H121"/>
<text class="v" x="110" y="284">r<tspan class="sb">ν1</tspan></text>
<text class="v" x="110" y="296">⋮</text>
<text class="v" x="110" y="308">r<tspan class="sb">νl</tspan></text>
<text class="v" x="110" y="322">⋮</text>
<text class="v" x="110" y="334">r<tspan class="sb">ν8M</tspan></text>
<text class="s" x="131" y="308">;</text>
<text class="p4" x="142" y="281"><tspan class="i">r</tspan><tspan class="sb i">νl</tspan> – розвідувальна</text><text class="p4 r" x="271" y="281">доступність</text>
<text class="p4" x="140" y="297">гілки</text><text class="p4 r" x="271" y="297"><tspan class="i">ν</tspan><tspan class="sb i">l</tspan> ; Ψ<tspan class="sb i">V</tspan> = ‖<tspan class="i">ψ</tspan><tspan class="sb i">νl</tspan>‖ –</text>
<text class="p4" x="142" y="313">діагональна</text><text class="p4 r" x="271" y="313">матриця</text>
<text class="p4" x="140" y="329">розмірності  8<tspan class="i">M</tspan> ×8<tspan class="i">M</tspan>  .</text>
</g>

<g id="n4-bot" transform="translate(963,0)">
<rect class="box" x="0" y="398" width="277" height="323"/>
<text class="h" x="138.5" y="418">Проекція залежності <tspan class="hb">Λ = ΨR</tspan></text>
<text class="h" x="138.5" y="436">в системі координат простору <tspan class="w">W</tspan><tspan class="sb">ΠΞ</tspan></text>
<text class="e" x="138.5" y="455">Λ<tspan class="sp">ΠΞ</tspan>=  Ψ<tspan class="sb">ΠΞ</tspan><tspan class="i">R</tspan><tspan class="sb">ΠΞ</tspan> ,</text>
<text class="s" x="6" y="509">де Λ<tspan class="sp i">V</tspan> =<tspan class="i">C</tspan>Λ<tspan class="sp">ΠΞ</tspan> ; Λ<tspan class="sp">ΠΞ</tspan>=</text>
<path class="br" d="M83,484H80V530H83M94,484H97V530H94"/>
<text class="v" x="88.5" y="496" font-style="normal">Λ<tspan class="sp">Π</tspan></text>
<text class="v" x="88.5" y="510">– –</text>
<text class="v" x="88.5" y="527" font-style="normal">Λ<tspan class="sp">Ξ</tspan></text>
<text class="s" x="100" y="509">; Λ<tspan class="sp">Π</tspan> =</text>
<path class="br" d="M127,473H124V541H127M143,473H146V541H143"/>
<text class="v" x="135" y="483">λ<tspan class="sp">π1</tspan></text>
<text class="v" x="135" y="495">⋮</text>
<text class="v" x="135" y="510">λ<tspan class="sp">πl</tspan></text>
<text class="v" x="135" y="523">⋮</text>
<text class="v" x="135" y="538">λ<tspan class="sp">πρ</tspan></text>
<text class="s" x="150" y="509">; Λ<tspan class="sp">Ξ</tspan> =</text>
<path class="br" d="M178,473H175V541H178M195,473H198V541H195"/>
<text class="v" x="186.5" y="483">λ<tspan class="sp">ξ1</tspan></text>
<text class="v" x="186.5" y="495">⋮</text>
<text class="v" x="186.5" y="510">λ<tspan class="sp">ξl</tspan></text>
<text class="v" x="186.5" y="523">⋮</text>
<text class="v" x="186.5" y="538">λ<tspan class="sp">ξϑ</tspan></text>
<text class="s" x="204" y="509">;</text>
<text class="s" x="14" y="589"><tspan class="i">R</tspan><tspan class="sb i">V</tspan> = <tspan class="i">AR</tspan><tspan class="sb">ΠΞ</tspan> ;</text>
<text class="s" x="63" y="589"><tspan class="i">R</tspan><tspan class="sb">ΠΞ</tspan> =</text>
<path class="br" d="M89,566H86V608H89M101,566H104V608H101"/>
<text class="v" x="95" y="578">R<tspan class="sb">Π</tspan></text>
<text class="v" x="95" y="590">– –</text>
<text class="v" x="95" y="604">R<tspan class="sb">Ξ</tspan></text>
<text class="s" x="107" y="589">; <tspan class="i">R</tspan><tspan class="sb">Π</tspan> =</text>
<path class="br" d="M134,552H131V621H134M148,552H151V621H148"/>
<text class="v" x="141" y="562">r<tspan class="sb">π1</tspan></text>
<text class="v" x="141" y="574">⋮</text>
<text class="v" x="141" y="589">r<tspan class="sb">πl</tspan></text>
<text class="v" x="141" y="602">⋮</text>
<text class="v" x="141" y="617">r<tspan class="sb">πρ</tspan></text>
<text class="s" x="154" y="589">; <tspan class="i">R</tspan><tspan class="sb">Ξ</tspan> =</text>
<path class="br" d="M181,552H178V621H181M197,552H200V621H197"/>
<text class="v" x="189" y="562">r<tspan class="sb">ξ1</tspan></text>
<text class="v" x="189" y="574">⋮</text>
<text class="v" x="189" y="589">r<tspan class="sb">ξl</tspan></text>
<text class="v" x="189" y="602">⋮</text>
<text class="v" x="189" y="617">r<tspan class="sb">ξϑ</tspan></text>
<text class="s" x="205" y="589">;</text>
<text class="s" x="12" y="669">Ψ<tspan class="sb">ΠΞ</tspan>=  <tspan class="i">A</tspan><tspan class="sp i">T</tspan>Ψ<tspan class="sb i">V</tspan><tspan class="i">A</tspan></text>
<path class="db" d="M80,648V687M82.5,648V687M137.5,648V687M140,648V687"/>
<text class="q" x="87" y="660">Ψ<tspan font-size="4" dy="-3">(1)</tspan><tspan font-size="4" dx="-5" dy="5">ΠΞ</tspan></text>
<text class="q m" x="110" y="660">|</text>
<text class="q" x="117" y="660">Ψ<tspan font-size="4" dy="-3">(2)</tspan><tspan font-size="4" dx="-5" dy="5">ΠΞ</tspan></text>
<text class="q" x="86" y="672">– – –</text><text class="q m" x="110" y="672">|</text><text class="q" x="117" y="672">– – –</text>
<text class="q" x="87" y="684">Ψ<tspan font-size="4" dy="-3">(3)</tspan><tspan font-size="4" dx="-5" dy="5">ΠΞ</tspan></text>
<text class="q m" x="110" y="684">|</text>
<text class="q" x="117" y="684">Ψ<tspan font-size="4" dy="-3">(4)</tspan><tspan font-size="4" dx="-5" dy="5">ΠΞ</tspan></text>
<text class="s" x="144" y="669">; Ψ<tspan font-size="4.5" dy="-3">(1)</tspan><tspan font-size="4.5" dx="-6" dy="5">ΠΞ</tspan><tspan dy="-2"> – підматриця</tspan></text>
<text class="s r" x="271" y="669">розміру</text>
<text class="s" x="8" y="699"><tspan class="i">ρ</tspan>× <tspan class="i">ρ</tspan> ; Ψ<tspan font-size="4.5" dy="-3">(4)</tspan><tspan font-size="4.5" dx="-6" dy="5">ΠΞ</tspan><tspan dy="-2"> – підматриця</tspan></text>
<text class="s m" x="143" y="699">розміру</text>
<text class="s r" x="271" y="699"><tspan class="i">ϑ</tspan>×<tspan class="i">ϑ</tspan> ; Ψ<tspan font-size="4.5" dy="-3">(2)</tspan><tspan font-size="4.5" dx="-6" dy="5">ΠΞ</tspan><tspan dy="-2"> – підматриця</tspan></text>
<text class="s" x="8" y="716">розміру  <tspan class="i">ρ</tspan>×<tspan class="i">ϑ</tspan> ; Ψ<tspan font-size="4.5" dy="-3">(3)</tspan><tspan font-size="4.5" dx="-6" dy="5">ΠΞ</tspan><tspan dy="-2"> – підматриця розміру  </tspan><tspan class="i">ϑ</tspan>×<tspan class="i">ρ</tspan> .</text>
</g>
</svg>
